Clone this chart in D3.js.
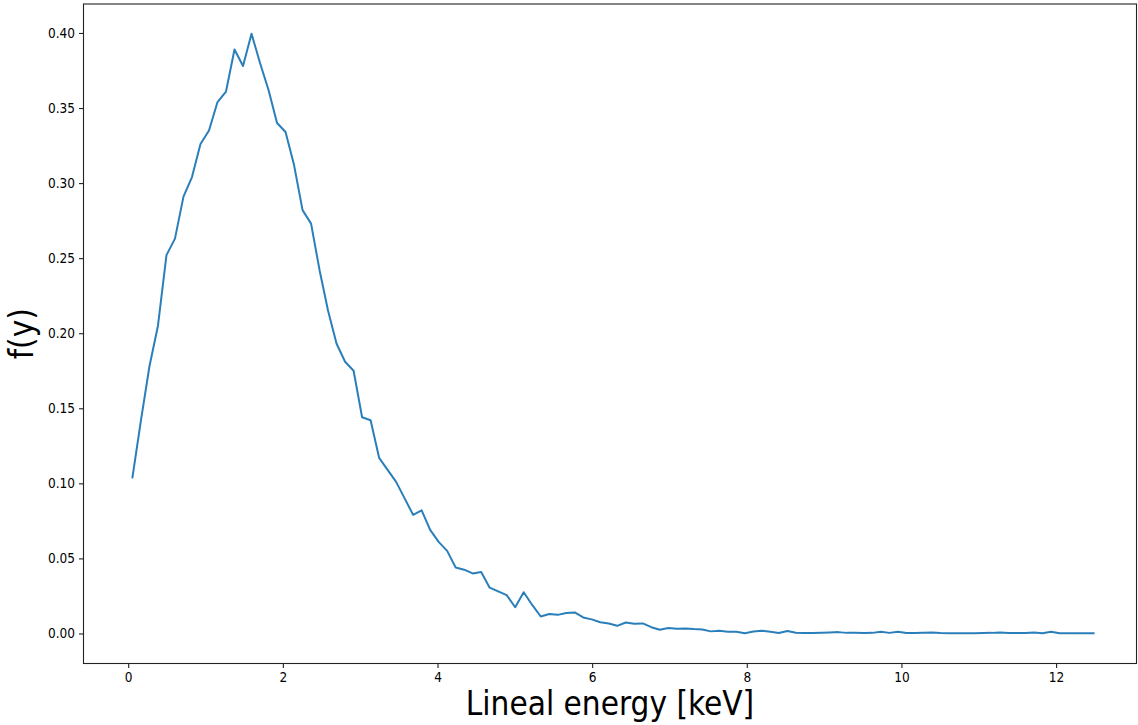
<!DOCTYPE html>
<html>
<head>
<meta charset="utf-8">
<script src="https://cdn.jsdelivr.net/npm/d3@7"></script>
<style>
  body { margin: 0; background: #fff; }
  text { font-family: "DejaVu Sans Condensed", "DejaVu Sans", sans-serif; font-stretch: condensed; fill: #000; }
</style>
</head>
<body>
<svg id="chart"></svg>
<script>
// bin centres of lineal energy (keV)
const energy = [
  0.055, 0.165, 0.275, 0.385, 0.495, 0.605, 0.715, 0.825, 0.935, 1.045,
  1.155, 1.265, 1.375, 1.485, 1.595, 1.705, 1.815, 1.925, 2.035, 2.145,
  2.255, 2.365, 2.475, 2.585, 2.695, 2.805, 2.915, 3.025, 3.135, 3.245,
  3.355, 3.465, 3.575, 3.685, 3.795, 3.905, 4.015, 4.125, 4.235, 4.345,
  4.455, 4.565, 4.675, 4.785, 4.895, 5.005, 5.115, 5.225, 5.335, 5.445,
  5.555, 5.665, 5.775, 5.885, 5.995, 6.105, 6.215, 6.325, 6.435, 6.545,
  6.655, 6.765, 6.875, 6.985, 7.095, 7.205, 7.315, 7.425, 7.535, 7.645,
  7.755, 7.865, 7.975, 8.085, 8.195, 8.305, 8.415, 8.525, 8.635, 8.745,
  8.855, 8.965, 9.075, 9.185, 9.295, 9.405, 9.515, 9.625, 9.735, 9.845,
  9.955, 10.065, 10.175, 10.285, 10.395, 10.505, 10.615, 10.725, 10.835, 10.945,
  11.055, 11.165, 11.275, 11.385, 11.495, 11.605, 11.715, 11.825, 11.935, 12.045,
  12.155, 12.265, 12.375, 12.485
];

// f(y) values
const fy = [
  0.104, 0.142, 0.178, 0.205, 0.252, 0.263, 0.291, 0.304, 0.326, 0.335,
  0.354, 0.361, 0.389, 0.378, 0.3995, 0.380, 0.362, 0.340, 0.334, 0.312,
  0.282, 0.273, 0.242, 0.215, 0.193, 0.181, 0.175, 0.144, 0.142, 0.117,
  0.109, 0.101, 0.090, 0.079, 0.082, 0.069, 0.061, 0.055, 0.044, 0.0425,
  0.040, 0.041, 0.0305, 0.028, 0.0255, 0.0175, 0.0275, 0.019, 0.0113, 0.013,
  0.0124, 0.0136, 0.014, 0.0107, 0.0094, 0.0075, 0.0067, 0.0051, 0.0073, 0.0065,
  0.0067, 0.0042, 0.0025, 0.0036, 0.0031, 0.0033, 0.0029, 0.0027, 0.0014, 0.0018,
  0.0011, 0.0011, 0.0002, 0.0013, 0.0018, 0.0011, 0.0003, 0.0016, 0.0005, 0.0003,
  0.0003, 0.0005, 0.0007, 0.0009, 0.0004, 0.0004, 0.0003, 0.0004, 0.0012, 0.0004,
  0.0012, 0.0003, 0.0003, 0.0004, 0.0006, 0.0003, 0.0002, 0.0002, 0.0002, 0.0002,
  0.0003, 0.0004, 0.0007, 0.0003, 0.0003, 0.0003, 0.0007, 0.0002, 0.0012, 0.0002,
  0.0002, 0.0002, 0.0002, 0.0002
];

const xTicks = [0, 2, 4, 6, 8, 10, 12];
const yTicks = [0, 0.05, 0.10, 0.15, 0.20, 0.25, 0.30, 0.35, 0.40];

const width = 1138, height = 725;
const margin = { top: 4, right: 1.5, bottom: 61.5, left: 83.5 };

let svg = d3.select("#chart")
            .attr("width", width)
            .attr("height", height);

// scales
let xScale = d3.scaleLinear()
                .domain([-0.578, 13.04])
                .range([margin.left, width - margin.right]);

let yScale = d3.scaleLinear()
                .domain([-0.02, 0.4193])
                .range([height - margin.bottom, margin.top]);

let data = energy.map((e, i) => ({ x: e, y: fy[i] }));

// curve
let line = d3.line()
              .x(d => xScale(d.x))
              .y(d => yScale(d.y));

svg.append("path")
    .datum(data)
    .attr("fill", "none")
    .attr("stroke", "#2a7fba")
    .attr("stroke-width", 2)
    .attr("stroke-linejoin", "round")
    .attr("stroke-linecap", "square")
    .attr("d", line);

// x axis
let xAxis = d3.axisBottom(xScale)
                .tickValues(xTicks)
                .tickFormat(d3.format("d"))
                .tickSize(4.5)
                .tickPadding(4);

svg.append("g")
    .attr("transform", `translate(0,${height - margin.bottom})`)
    .call(xAxis)
    .call(g => g.select(".domain").remove())
    .call(g => g.selectAll("text").attr("font-size", "13.5px").attr("fill", "#222"));

// y axis
let yAxis = d3.axisLeft(yScale)
                .tickValues(yTicks)
                .tickFormat(d3.format(".2f"))
                .tickSize(4.5)
                .tickPadding(4);

svg.append("g")
    .attr("transform", `translate(${margin.left},0)`)
    .call(yAxis)
    .call(g => g.select(".domain").remove())
    .call(g => g.selectAll("text").attr("font-size", "13.5px").attr("fill", "#222"));

svg.selectAll(".tick line").attr("stroke", "#222").attr("stroke-width", 1.1);

// frame
svg.append("rect")
    .attr("x", margin.left)
    .attr("y", margin.top)
    .attr("width", width - margin.left - margin.right)
    .attr("height", height - margin.top - margin.bottom)
    .attr("fill", "none")
    .attr("stroke", "#222")
    .attr("stroke-width", 1.1);

// axis titles
svg.append("text")
    .attr("x", (margin.left + width - margin.right) / 2)
    .attr("y", 715)
    .attr("text-anchor", "middle")
    .attr("font-size", "33px")
    .text("Lineal energy [keV]");

svg.append("text")
    .attr("transform", `translate(33,${(margin.top + height - margin.bottom) / 2}) rotate(-90)`)
    .attr("text-anchor", "middle")
    .attr("font-size", "33px")
    .text("f(y)");
</script>
</body>
</html>
